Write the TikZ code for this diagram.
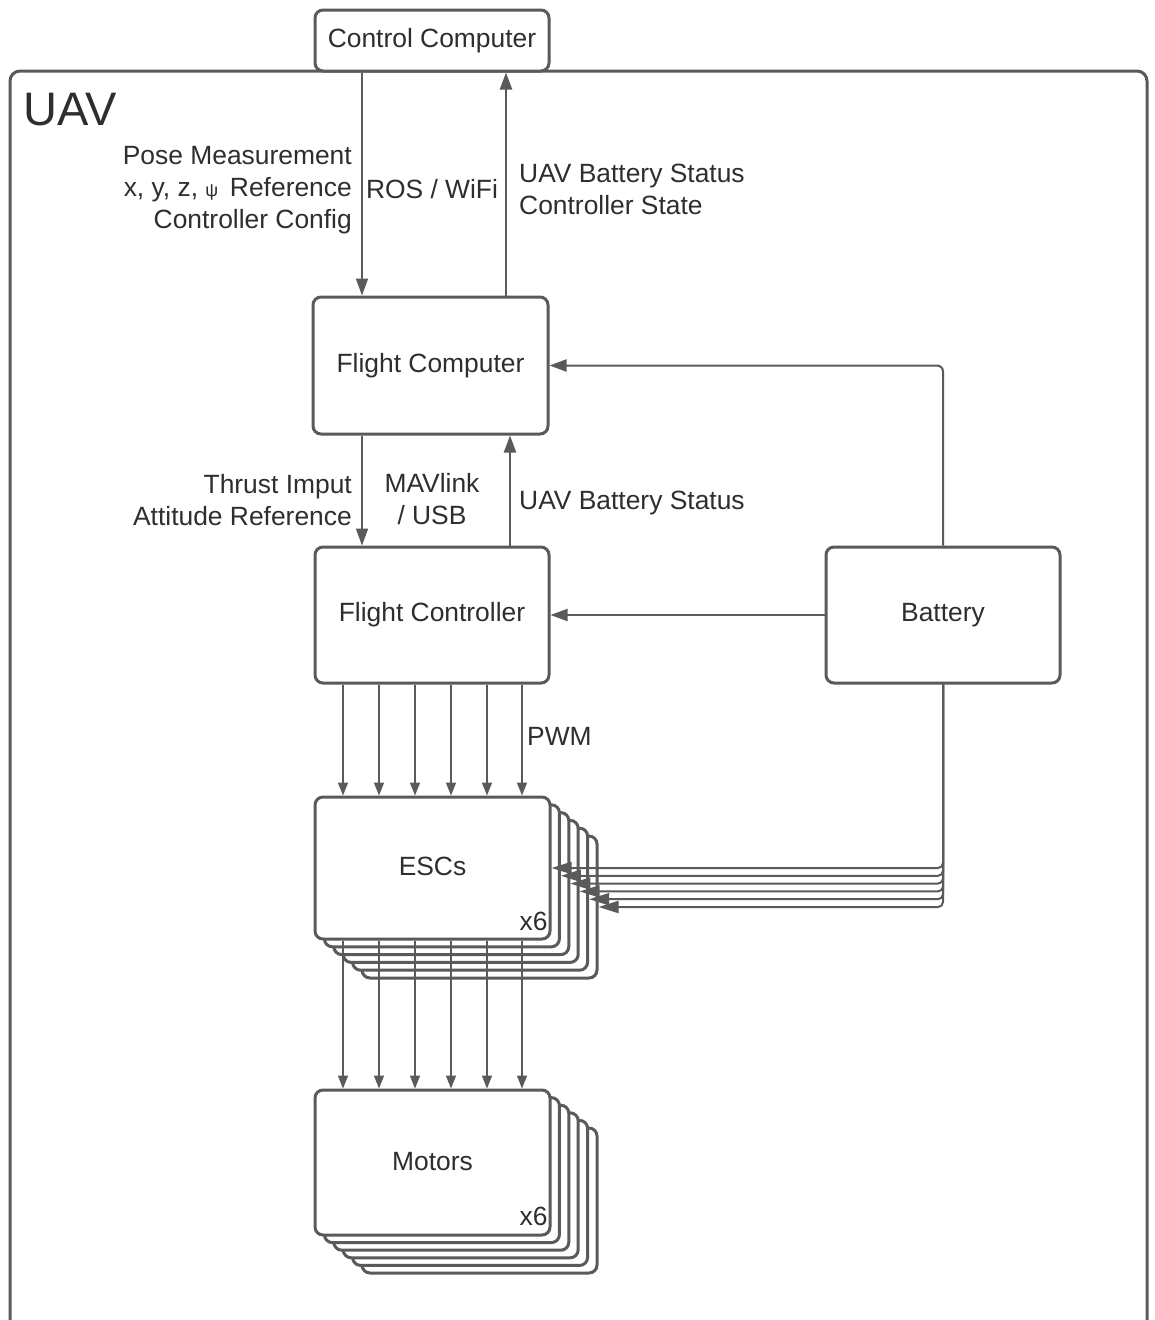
\documentclass[tikz,border=0pt]{standalone}
\usepackage{fontspec}
\setmainfont{Liberation Sans}
\usetikzlibrary{arrows.meta,calc}
\definecolor{lc}{HTML}{5A5A5A}
\definecolor{tc}{HTML}{2E2E2E}
\begin{document}
\begin{tikzpicture}[x=1pt,y=-1pt,
  box/.style={draw=lc, line width=3pt, rounded corners=8pt, fill=white, inner sep=0pt, text=tc, font=\fontsize{26.4}{32}\selectfont},
  lbl/.style={text=tc, font=\fontsize{26.4}{32}\selectfont, inner sep=0pt},
  arr/.style={draw=lc, line width=2pt, -{Triangle[length=17pt,width=12pt]}},
  barr/.style={draw=lc, line width=2pt, -{Triangle[length=20pt,width=12pt]}},
  sarr/.style={draw=lc, line width=1.7pt, -{Triangle[length=13pt,width=10pt]}},
]
\useasboundingbox (0,0) rectangle (1155,1320);
\fill[white] (0,0) rectangle (1155,1320);
% UAV frame
\draw[lc, line width=3pt, rounded corners=10pt] (10,1320) -- (10,71) -- (1147,71) -- (1147,1320);
\node[lbl, anchor=west, font=\fontsize{47}{47}\selectfont] (uav) at (23,110) {UAV};

% main boxes
\node[box, minimum width=234pt, minimum height=61pt] (cc) at (432,40.5) {Control Computer};
\node[box, minimum width=235pt, minimum height=137pt] (fcomp) at (430.5,365.5) {Flight Computer};
\node[box, minimum width=234pt, minimum height=136pt] (fctrl) at (432,615) {Flight Controller};
\node[box, minimum width=234pt, minimum height=136pt] (bat) at (943,615) {Battery};

% ESC stack
\foreach \k in {5,4,3,2,1}
  \node[box, minimum width=235pt, minimum height=142pt] (esc\k) at ({432.5+9.4*\k},{868+7.8*\k}) {};
\node[box, minimum width=235pt, minimum height=142pt] (esc0) at (432.5,868) {\raisebox{3pt}{ESCs}};
\node[lbl] (escx) at ([shift={(-18,-19)}]esc0.south east) {x6};

% Motor stack
\foreach \k in {5,4,3,2,1}
  \node[box, minimum width=235pt, minimum height=145pt] (mot\k) at ({432.5+9.4*\k},{1162.5+7.6*\k}) {};
\node[box, minimum width=235pt, minimum height=145pt] (mot0) at (432.5,1162.5) {\raisebox{3pt}{Motors}};
\node[lbl] (motx) at ([shift={(-18,-20)}]mot0.south east) {x6};

% connectors
\coordinate (xa) at (362,0);
\coordinate (xb) at (506,0);
\coordinate (xc) at (510,0);
\draw[arr, line width=1.7pt] (cc.south -| xa) -- (fcomp.north -| xa);
\draw[arr, line width=2.3pt] (fcomp.north -| xb) -- (cc.south -| xb);
\draw[arr, line width=1.7pt] (fcomp.south -| xa) -- (fctrl.north -| xa);
\draw[arr, line width=2.3pt] (fctrl.north -| xc) -- (fcomp.south -| xc);
\draw[arr, rounded corners=6pt] (bat.north) |- (fcomp.east);
\draw[arr] (bat.west) -- (fctrl.east);

\foreach \i/\x in {1/343,2/379,3/415,4/451,5/487,6/522} {
  \coordinate (p\i) at (\x,0);
  \draw[sarr] (fctrl.south -| p\i) -- (esc0.north -| p\i);
  \draw[sarr, line width=1.5pt] (esc0.south -| p\i) -- (mot0.north -| p\i);
}
\foreach \k in {0,1,2,3,4,5}
  \draw[barr, rounded corners=5pt] (bat.south) |- (esc\k.east);

% labels
\node[lbl, anchor=east, align=right] (l1) at (352,190) {Pose Measurement\\x, y, z, {\fontsize{18}{18}\selectfont ψ}\,\ Reference\\Controller Config};
\node[lbl] (ros) at (432,189) {ROS / WiFi};
\node[lbl, anchor=west, align=left] (l2) at (519,189) {UAV Battery Status\\Controller State};
\node[lbl, anchor=east, align=right] (l3) at (352,500) {Thrust Imput\\Attitude Reference};
\node[lbl, align=center] (mav) at (432,499) {MAVlink\\/ USB};
\node[lbl, anchor=west] (l4) at (519,503) {UAV Battery Status};
\node[lbl, anchor=west] (pwm) at (527,736) {PWM};
\end{tikzpicture}
\end{document}
